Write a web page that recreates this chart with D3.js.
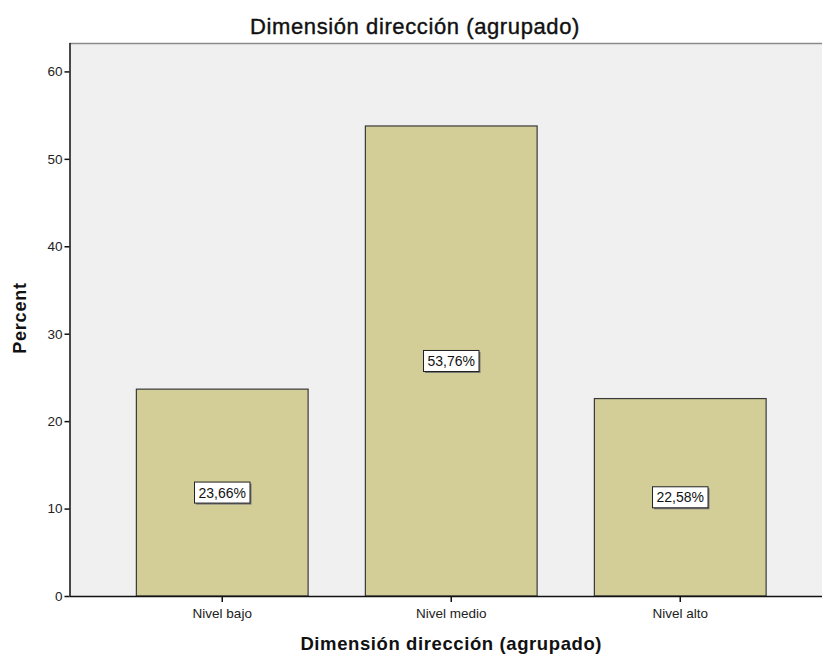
<!DOCTYPE html>
<html>
<head>
<meta charset="utf-8">
<script src="https://cdn.jsdelivr.net/npm/d3@7"></script>
<style>
  html, body { margin: 0; padding: 0; background: #fff; }
  svg { display: block; font-family: Arial, "Liberation Sans", sans-serif; }
</style>
</head>
<body>
<svg id="chart" width="822" height="657"></svg>
<script>
// Frequency distribution of "Dimensión dirección (agrupado)"
const categories = ["Nivel bajo", "Nivel medio", "Nivel alto"];
const percents = [23.66, 53.76, 22.58];
const yTicks = [0, 10, 20, 30, 40, 50, 60];
const chartTitle = "Dimensión dirección (agrupado)";
const xTitle = "Dimensión dirección (agrupado)";
const yTitle = "Percent";

const svg = d3.select("#chart");
const plot = { left: 69.5, top: 43, right: 833, bottom: 596 };
const font = "Arial, 'Liberation Sans', sans-serif";

const x = d3.scaleBand()
  .domain(categories)
  .range([plot.left, plot.right])
  .paddingInner(0.25)
  .paddingOuter(0.292);

const y = d3.scaleLinear()
  .domain([0, 63.25])
  .range([plot.bottom, plot.top]);

// plot background
svg.append("rect")
  .attr("x", plot.left).attr("y", plot.top)
  .attr("width", plot.right - plot.left).attr("height", plot.bottom - plot.top)
  .attr("fill", "#f0f0f0");

// top frame line
svg.append("line")
  .attr("x1", plot.left).attr("x2", plot.right)
  .attr("y1", plot.top + 0.5).attr("y2", plot.top + 0.5)
  .attr("stroke", "#8a8a8a").attr("stroke-width", 1.5);

// bars
svg.append("g").selectAll("rect")
  .data(percents)
  .join("rect")
  .attr("x", (d, i) => x(categories[i]))
  .attr("y", d => y(d))
  .attr("width", x.bandwidth())
  .attr("height", d => y(0) - y(d))
  .attr("fill", "#d3ce97")
  .attr("stroke", "#3a3a3a")
  .attr("stroke-width", 1.2);

// y axis
const yAxis = svg.append("g")
  .attr("transform", `translate(${plot.left},0)`)
  .call(d3.axisLeft(y).tickValues(yTicks).tickSize(5).tickPadding(2).tickFormat(d3.format("d")));
yAxis.select(".domain").attr("stroke", "#111").attr("stroke-width", 1.5)
  .attr("d", `M0.5,${plot.top}V${plot.bottom}`);
yAxis.selectAll(".tick line").attr("stroke", "#111").attr("stroke-width", 1.5);
yAxis.selectAll(".tick text").attr("font-size", 13.5).attr("fill", "#222")
  .attr("font-family", font);

// x axis
const xAxis = svg.append("g")
  .attr("transform", `translate(0,${plot.bottom})`)
  .call(d3.axisBottom(x).tickSize(6).tickPadding(6));
xAxis.select(".domain").attr("stroke", "#111").attr("stroke-width", 1.5)
  .attr("d", `M${plot.left},0.5H${plot.right}`);
xAxis.selectAll(".tick line").attr("stroke", "#111").attr("stroke-width", 1.5);
xAxis.selectAll(".tick text").attr("font-size", 13.5).attr("fill", "#222")
  .attr("font-family", font);

// value labels in boxes at bar mid-height
const labels = svg.append("g").selectAll("g")
  .data(percents)
  .join("g")
  .attr("transform", (d, i) => `translate(${x(categories[i]) + x.bandwidth() / 2},${y(d / 2)})`);

labels.each(function(d) {
  const g = d3.select(this);
  const txt = d.toFixed(2).replace(".", ",") + "%";
  const t = g.append("text")
    .attr("text-anchor", "middle")
    .attr("dy", "0.36em")
    .attr("font-size", 14)
    .attr("fill", "#111")
    .text(txt);
  const bb = t.node().getBBox();
  const w = bb.width + 8, h = 21;
  g.insert("rect", "text")
    .attr("x", -w / 2 + 1.5).attr("y", -h / 2 + 1.5)
    .attr("width", w).attr("height", h)
    .attr("fill", "#777");
  g.insert("rect", "text")
    .attr("x", -w / 2).attr("y", -h / 2)
    .attr("width", w).attr("height", h)
    .attr("fill", "#fff")
    .attr("stroke", "#222").attr("stroke-width", 1);
});

// titles
svg.append("text")
  .attr("x", 415).attr("y", 34)
  .attr("text-anchor", "middle")
  .attr("font-size", 22).attr("fill", "#111")
  .attr("stroke", "#111").attr("stroke-width", 0.4)
  .attr("letter-spacing", 0.6)
  .text(chartTitle);

svg.append("text")
  .attr("x", (plot.left + plot.right) / 2).attr("y", 650)
  .attr("text-anchor", "middle")
  .attr("font-size", 18.5).attr("font-weight", "bold").attr("fill", "#111")
  .attr("letter-spacing", 0.6)
  .text(xTitle);

svg.append("text")
  .attr("transform", `translate(26,318) rotate(-90)`)
  .attr("text-anchor", "middle")
  .attr("font-size", 18).attr("font-weight", "bold").attr("fill", "#111")
  .attr("letter-spacing", 0.8)
  .text(yTitle);
</script>
</body>
</html>
